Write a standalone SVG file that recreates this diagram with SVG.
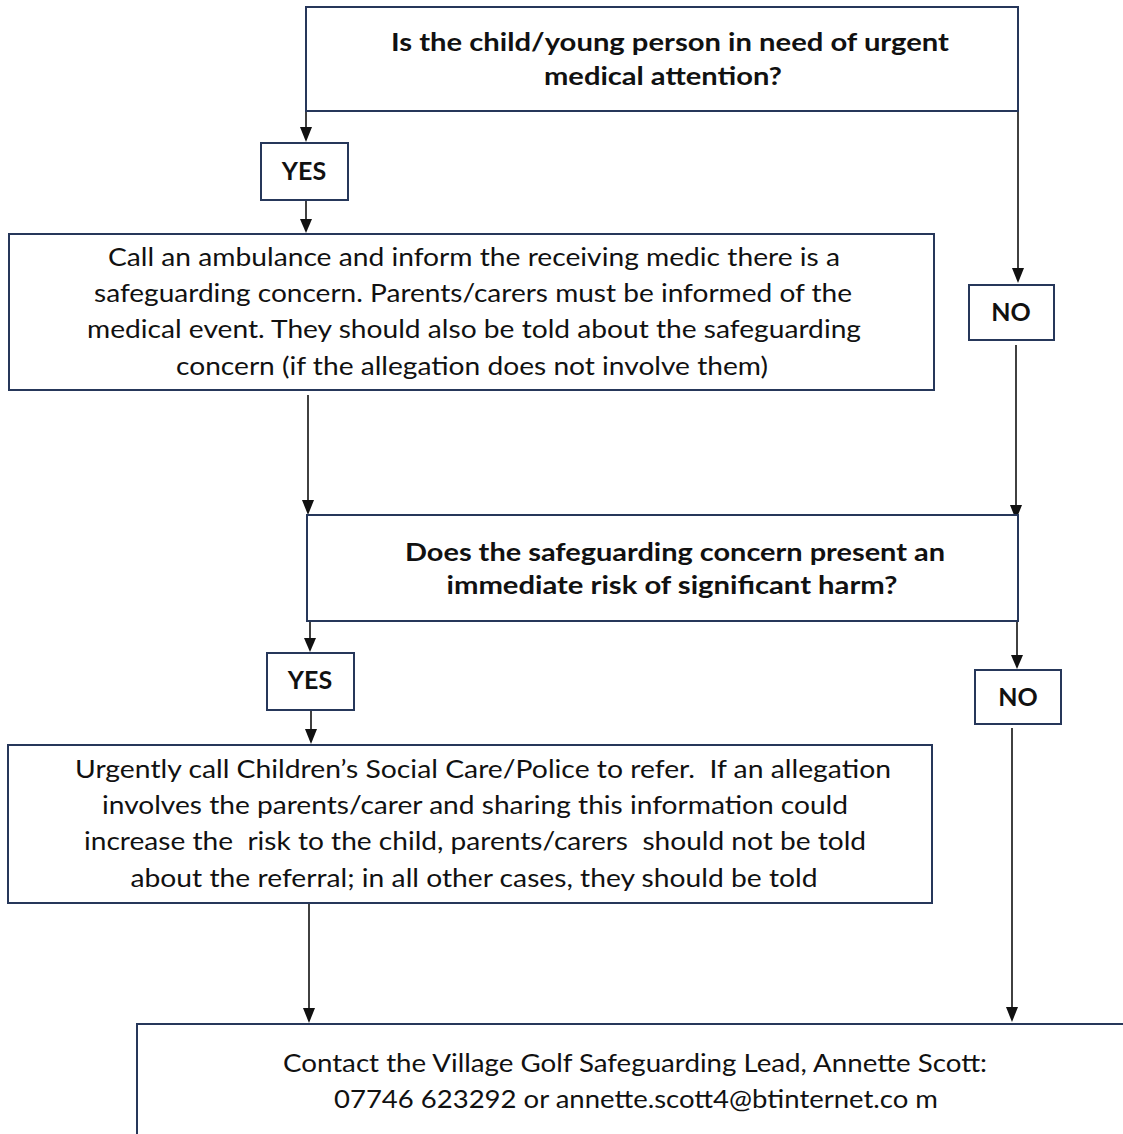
<svg xmlns="http://www.w3.org/2000/svg" width="1123" height="1134" viewBox="0 0 1123 1134">
<style>
.box{fill:#fff;stroke:#26375a;stroke-width:2}
.t{font-family:Lato,"Open Sans","Liberation Sans",sans-serif;font-size:25px;fill:#111;text-anchor:middle;white-space:pre}
.b{font-weight:bold}
.c{stroke:#111;stroke-width:1.6;fill:none}
.h{fill:#111}
</style>
<rect width="1123" height="1134" fill="#fff"/>
<g id="connectors">
<path class="c" d="M306,111 V129" />
<path class="h" d="M300,127 L312,127 L306,142 Z"/>
<path class="c" d="M306,200 V220" />
<path class="h" d="M300,219 L312,219 L306,233 Z"/>
<path class="c" d="M1018,111 V270" />
<path class="h" d="M1012,268 L1024,268 L1018,283 Z"/>
<path class="c" d="M1016,345 V505" />
<path class="h" d="M1010,505 L1022,505 L1016,520 Z"/>
<path class="c" d="M308,395 V500" />
<path class="h" d="M302,500 L314,500 L308,515 Z"/>
<path class="c" d="M310,621 V640" />
<path class="h" d="M304,638 L316,638 L310,652 Z"/>
<path class="c" d="M311,710 V730" />
<path class="h" d="M305,729 L317,729 L311,744 Z"/>
<path class="c" d="M1017,621 V656" />
<path class="h" d="M1011,655 L1023,655 L1017,669 Z"/>
<path class="c" d="M1012,728 V1008" />
<path class="h" d="M1006,1007 L1018,1007 L1012,1022 Z"/>
<path class="c" d="M309,903 V1008" />
<path class="h" d="M303,1008 L315,1008 L309,1023 Z"/>
</g>
<g id="q1">
<rect class="box" x="306" y="7" width="712" height="104"/>
<text class="t b" x="670" y="51" textLength="558" lengthAdjust="spacingAndGlyphs">Is the child/young person in need of urgent</text>
<text class="t b" x="663" y="85" textLength="238" lengthAdjust="spacingAndGlyphs">medical attention?</text>
</g>
<g id="yes1">
<rect class="box" x="261" y="143" width="87" height="57"/>
<text class="t b" x="304" y="180">YES</text>
</g>
<g id="ambulance">
<rect class="box" x="9" y="234" width="925" height="156"/>
<text class="t" x="474" y="266" textLength="732" lengthAdjust="spacingAndGlyphs">Call an ambulance and inform the receiving medic there is a</text>
<text class="t" x="473" y="302" textLength="758" lengthAdjust="spacingAndGlyphs">safeguarding concern. Parents/carers must be informed of the</text>
<text class="t" x="474" y="338" textLength="774" lengthAdjust="spacingAndGlyphs">medical event. They should also be told about the safeguarding</text>
<text class="t" x="472" y="375" textLength="592" lengthAdjust="spacingAndGlyphs">concern (if the allegation does not involve them)</text>
</g>
<g id="no1">
<rect class="box" x="969" y="285" width="85" height="55"/>
<text class="t b" x="1011" y="321">NO</text>
</g>
<g id="q2">
<rect class="box" x="307" y="515" width="711" height="106"/>
<text class="t b" x="675" y="561" textLength="540" lengthAdjust="spacingAndGlyphs">Does the safeguarding concern present an</text>
<text class="t b" x="672" y="594" textLength="451" lengthAdjust="spacingAndGlyphs">immediate risk of significant harm?</text>
</g>
<g id="yes2">
<rect class="box" x="267" y="653" width="87" height="57"/>
<text class="t b" x="310" y="689">YES</text>
</g>
<g id="no2">
<rect class="box" x="975" y="670" width="86" height="54"/>
<text class="t b" x="1018" y="706">NO</text>
</g>
<g id="refer">
<rect class="box" x="8" y="745" width="924" height="158"/>
<text class="t" x="483" y="778" textLength="816" lengthAdjust="spacingAndGlyphs" xml:space="preserve">Urgently call Children’s Social Care/Police to refer.  If an allegation</text>
<text class="t" x="475" y="814" textLength="746" lengthAdjust="spacingAndGlyphs">involves the parents/carer and sharing this information could</text>
<text class="t" x="475" y="850" textLength="782" lengthAdjust="spacingAndGlyphs" xml:space="preserve">increase the  risk to the child, parents/carers  should not be told</text>
<text class="t" x="474" y="887" textLength="687" lengthAdjust="spacingAndGlyphs">about the referral; in all other cases, they should be told</text>
</g>
<g id="contact">
<rect class="box" x="137" y="1024" width="1000" height="130"/>
<text class="t" x="635" y="1072" textLength="704" lengthAdjust="spacingAndGlyphs">Contact the Village Golf Safeguarding Lead, Annette Scott:</text>
<text class="t" x="636" y="1108" textLength="604" lengthAdjust="spacingAndGlyphs">07746 623292 or annette.scott4@btinternet.co m</text>
</g>
</svg>
